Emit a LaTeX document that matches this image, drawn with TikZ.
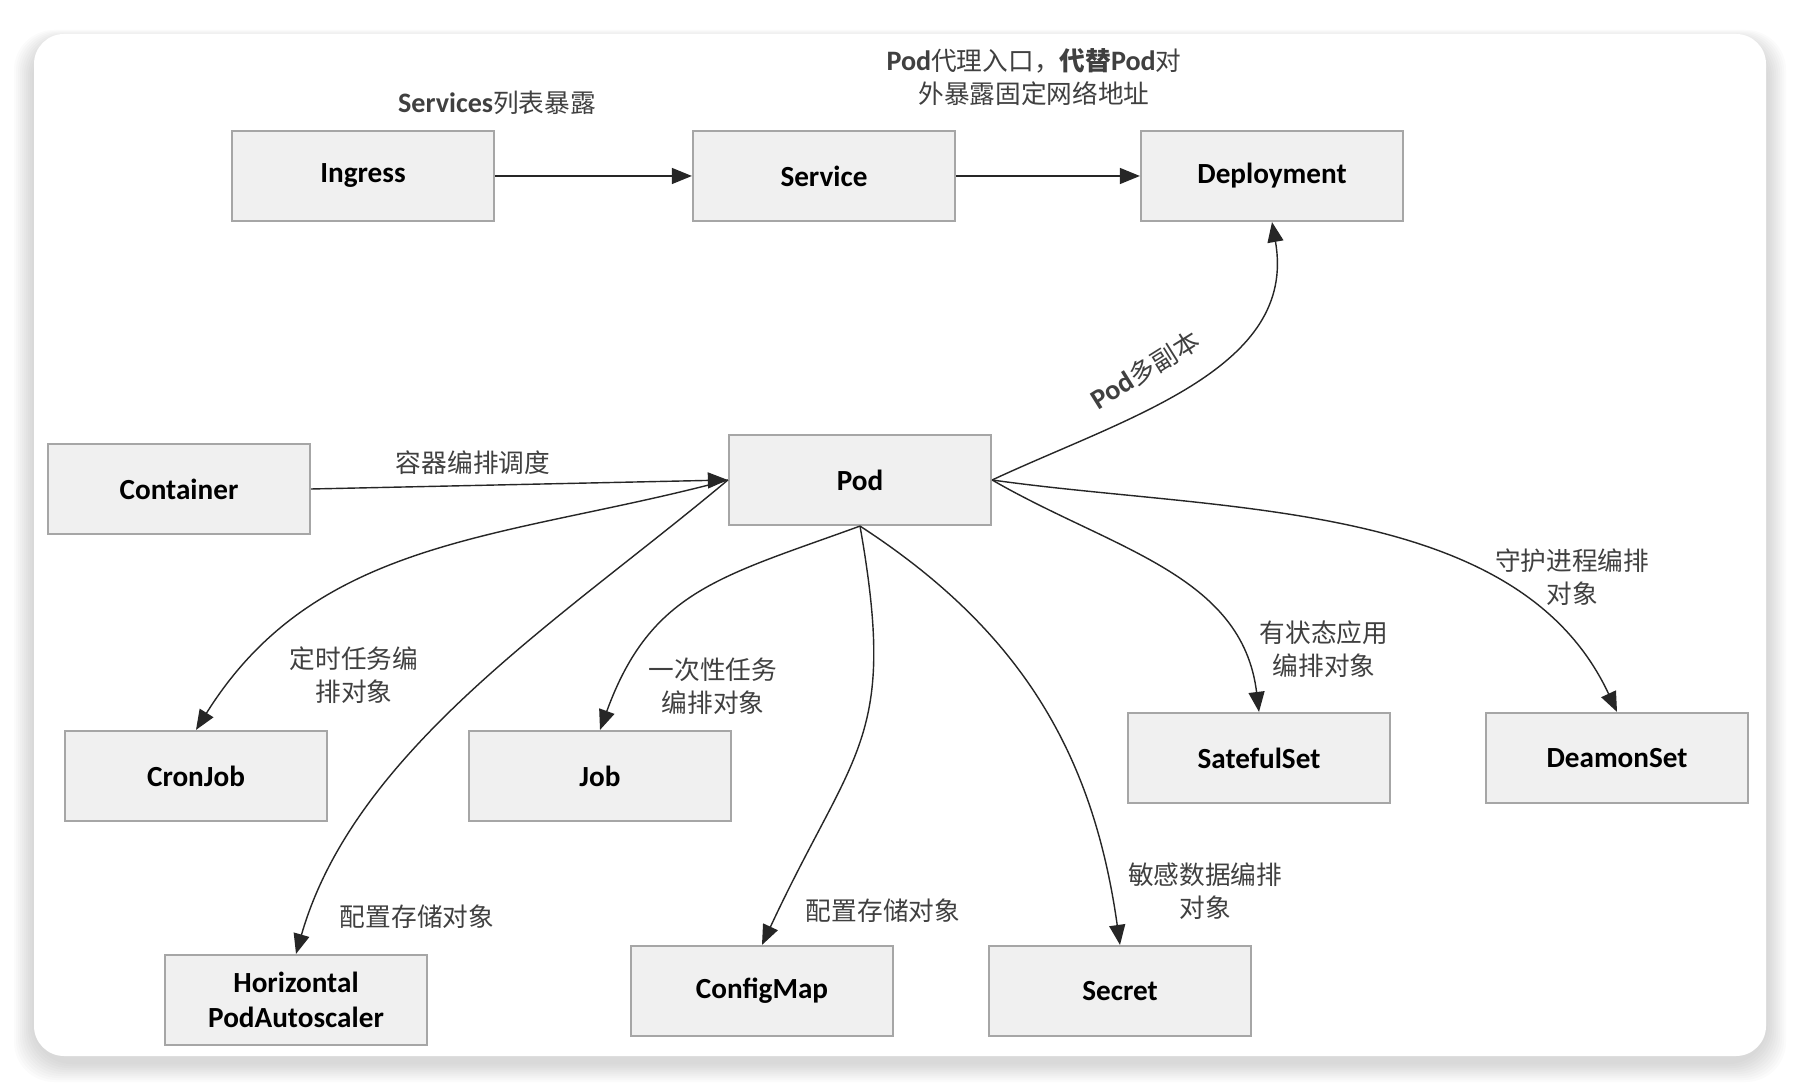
\documentclass[tikz,border=0pt]{standalone}
\usepackage{fontspec}
\setmainfont{Carlito}
\newfontfamily\cjk{Noto Sans CJK SC}
\usetikzlibrary{arrows.meta,positioning}
\newcommand\enb[1]{{\rmfamily\bfseries\fontsize{8}{9.4}\selectfont #1}}
\tikzset{
  obj/.style={draw=black!35, fill=black!6, line width=0.6pt, minimum width=2.62cm, minimum height=0.9cm, align=center, font=\fontsize{8.3}{10}\selectfont\bfseries},
  lbl/.style={align=center, text=black!75, inner sep=1pt, font=\fontsize{7.3}{9.4}\selectfont\cjk},
  arr/.style={-{Triangle[length=2mm,width=1.6mm]}, line width=0.4pt, black!85}
}

\begin{document}
\begin{tikzpicture}[x=0.01cm,y=0.01cm]
\useasboundingbox (0,0) rectangle (1800,-1092);
% card with soft shadow
\foreach \s in {1,...,10}
  \fill[black,opacity=0.014,rounded corners=0.4cm] ({34-2*\s},{-40+\s}) rectangle ({1766+2*\s},{-1062-2*\s});
\fill[white,rounded corners=0.3cm] (34,-34) rectangle (1766,-1056);

\node[obj] (ingress) at (363,-176) {Ingress};
\node[obj] (service) at (824,-176) {Service};
\node[obj] (deploy) at (1272,-176) {Deployment};

\node[obj] (container) at (179,-489) {Container};
\node[obj] (pod) at (860,-480) {Pod};

\node[obj] (cronjob) at (196,-776) {CronJob};
\node[obj] (job) at (600,-776) {Job};
\node[obj] (stateful) at (1259,-758) {SatefulSet};
\node[obj] (daemon) at (1617,-758) {DeamonSet};

\node[obj] (hpa) at (296,-1000) {Horizontal\\PodAutoscaler};
\node[obj] (configmap) at (762,-991) {ConfigMap};
\node[obj] (secret) at (1120,-991) {Secret};

% labels
\node[lbl] (lservices) at (497,-103) {\enb{Services}列表暴露};
\node[lbl] (lproxy) at (1034,-77) {\enb{Pod}代理入口，{\bfseries 代替}\enb{Pod}对\\外暴露固定网络地址};
\node[lbl,rotate=32] (lreplica) at (1145,-370) {\enb{Pod}多副本};
\node[lbl] (lsched) at (473,-463) {容器编排调度};
\node[lbl] (lcron) at (354,-675) {定时任务编\\排对象};
\node[lbl] (lhpa) at (417,-917) {配置存储对象};
\node[lbl] (ljob) at (713,-686) {一次性任务\\编排对象};
\node[lbl] (lcm) at (883,-911) {配置存储对象};
\node[lbl] (lsecret) at (1205,-891) {敏感数据编排\\对象};
\node[lbl] (lstate) at (1324,-649) {有状态应用\\编排对象};
\node[lbl] (ldaemon) at (1572,-577) {守护进程编排\\对象};

% connectors
\draw[arr] (ingress) -- (service);
\draw[arr] (service) -- (deploy);
\draw[arr] (container.east) -- (pod.west);
\draw[arr] (pod.east) to[out=25,in=-80] (deploy.south);
\draw[arr] (pod.west) to[out=195,in=58] (cronjob.north);
\draw[arr] (pod.west) to[out=220,in=74,looseness=0.85] (hpa.north);
\draw[arr] (pod.south) to[out=200,in=70,looseness=1.15] (job.north);
\draw[arr] (pod.south) to[out=-80,in=65,looseness=1.3] (configmap.north);
\draw[arr] (pod.south) to[out=-33,in=98] (secret.north);
\draw[arr] (pod.east) to[out=-30,in=97] (stateful.north);
\draw[arr] (pod.east) to[out=-8,in=115,looseness=0.9] (daemon.north);
\end{tikzpicture}
\end{document}
